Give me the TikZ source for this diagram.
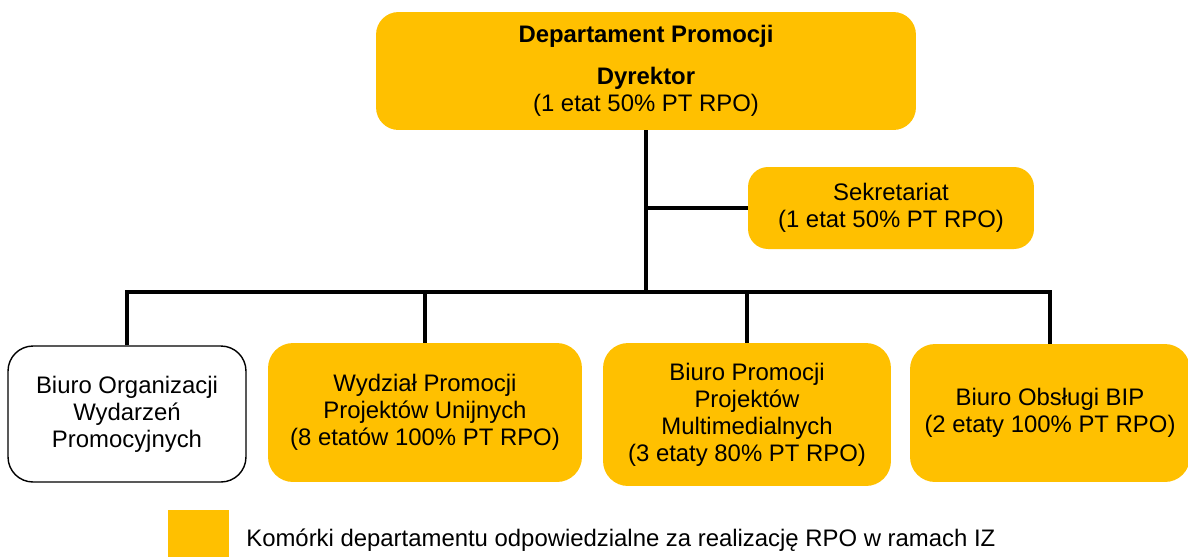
\documentclass[tikz,border=0pt]{standalone}
\usepackage{fontspec}
\setmainfont{Liberation Sans}
\usepackage{xcolor}
\definecolor{rpogold}{HTML}{FFC000}

\begin{document}
\begin{tikzpicture}[x=0.02cm,y=-0.02cm,
    unit/.style={shape=rectangle,rounded corners=0.5cm,fill=rpogold,align=center,
                 font=\fontsize{13.6}{15.4}\selectfont,inner sep=2pt},
    plainunit/.style={unit,fill=white,draw=black,line width=0.8pt},
    link/.style={line width=2.8pt}]
                  \useasboundingbox (0,0) rectangle (1188,556);

                  % units
                  \node[unit,minimum width=10.8cm,minimum height=2.36cm,rounded corners=0.45cm] (dir) at (646,71)
                      {\textbf{Departament Promocji}\\[8.5pt]\textbf{Dyrektor}\\(1 etat 50\% PT RPO)};
                  \node[unit,minimum width=5.72cm,minimum height=1.64cm,rounded corners=0.4cm] (sek) at (891,208)
                      {Sekretariat\\(1 etat 50\% PT RPO)};
                  \node[plainunit,minimum width=4.76cm,minimum height=2.72cm] (bow) at (127,414)
                      {Biuro Organizacji\\Wydarzeń\\Promocyjnych};
                  \node[unit,minimum width=6.28cm,minimum height=2.78cm] (wppu) at (425,412.5)
                      {Wydział Promocji\\Projektów Unijnych\\(8 etatów 100\% PT RPO)};
                  \node[unit,minimum width=5.76cm,minimum height=2.86cm] (bppm) at (747,414.5)
                      {Biuro Promocji\\Projektów\\Multimedialnych\\(3 etaty 80\% PT RPO)};
                  \node[unit,minimum width=5.6cm,minimum height=2.76cm] (bob) at (1050,413)
                      {Biuro Obsługi BIP\\(2 etaty 100\% PT RPO)};

                  % links
                  \coordinate (hub) at (646,292);
                  \draw[link] (dir.south) -- (hub);
                  \draw[link] (sek.west) -- (sek.west -| dir.south);
                  \draw[link] (bow.north) |- (bob.north |- hub) -- (bob.north);
                  \draw[link] (wppu.north) -- (wppu.north |- hub);
                  \draw[link] (bppm.north) -- (bppm.north |- hub);

                  % legend
                  \node[shape=rectangle,fill=rpogold,minimum width=1.22cm,minimum height=1.1cm,inner sep=0pt] (key) at (198.5,537) {};
                  \node[anchor=west,font=\fontsize{13.6}{15.4}\selectfont,inner sep=0pt] (keytext) at (246,540)
                      {Komórki departamentu odpowiedzialne za realizację RPO w ramach IZ};
              \end{tikzpicture}
\end{document}
